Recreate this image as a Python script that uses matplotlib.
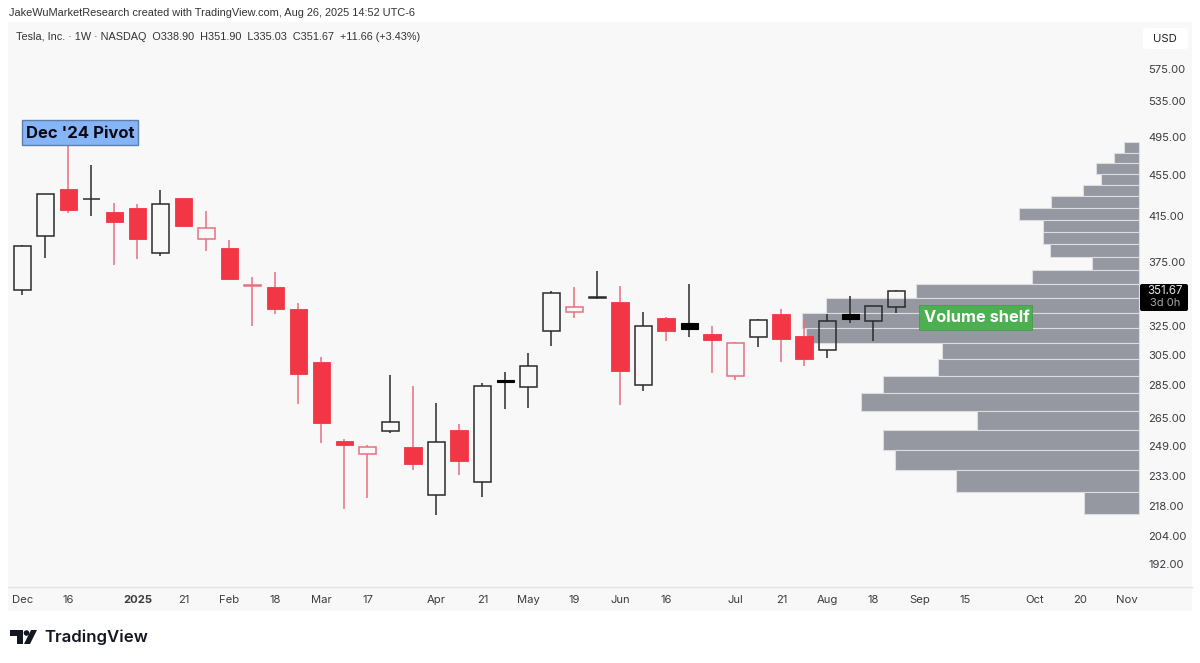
# plot.py
import matplotlib
matplotlib.use("Agg")
import matplotlib.pyplot as plt
from matplotlib.patches import Rectangle, Circle, Polygon, FancyBboxPatch
from matplotlib.ticker import NullLocator

plt.rcParams["font.family"] = ["Inter", "DejaVu Sans"]

# weekly candles
opens = [352.1, 397.3, 440.4, 431.0, 418.8, 422.8, 382.6, 432.0, 403.9, 386.4, 356.0, 354.7, 337.8,
         300.1, 252.2, 248.4, 257.7, 248.9, 223.4, 258.4, 229.9, 287.0, 283.9, 321.7, 339.0, 346.4,
         342.8, 285.4, 330.7, 323.1, 319.7, 313.0, 317.2, 334.1, 318.0, 308.6, 330.0, 329.0, 338.9]
highs = [389.1, 436.0, 488.5, 464.8, 427.5, 426.2, 439.5, 432.2, 420.0, 393.5, 362.4, 366.9, 342.1,
         303.4, 253.2, 249.5, 291.6, 284.7, 274.4, 261.6, 286.3, 293.9, 306.6, 351.5, 354.5, 367.3,
         355.0, 335.3, 331.8, 357.0, 325.0, 313.7, 330.3, 337.7, 329.5, 334.1, 347.5, 340.0, 351.9]
lows = [348.4, 377.9, 417.9, 415.4, 372.6, 377.0, 379.8, 406.0, 384.3, 360.2, 325.1, 334.0, 273.6,
        250.6, 216.7, 221.9, 256.4, 236.1, 214.0, 233.7, 222.6, 270.7, 271.0, 311.4, 331.0, 345.1,
        272.9, 281.5, 314.4, 317.2, 293.3, 288.8, 310.3, 300.5, 297.7, 302.7, 327.1, 314.4, 335.03]
closes = [388.6, 435.6, 420.7, 431.4, 409.9, 394.2, 426.0, 406.0, 394.2, 361.3, 355.7, 337.6, 292.6,
          262.1, 249.7, 244.8, 263.0, 239.4, 251.7, 241.1, 284.4, 288.3, 297.6, 349.7, 335.6, 346.7,
          294.6, 325.1, 321.6, 327.3, 315.2, 291.2, 329.3, 315.8, 302.0, 329.0, 334.1, 339.6, 351.67]
# w = hollow black, k = solid black, r = solid red, h = hollow red
kinds = list("wwrwrrwrhrhrrrrhwrwrwkwwhwrwrkrhwrrwkww")

# volume profile rows, top to bottom (relative volume)
vp_edges = [488.5, 477.6, 466.6, 455.6, 444.6, 433.7, 422.7, 411.7, 400.7, 389.8, 378.8, 367.8, 356.9,
            345.9, 334.9, 323.9, 313.0, 302.0, 291.0, 280.0, 269.1, 258.1, 247.1, 236.1, 225.2, 214.2]
vp_volume = [15, 25, 43, 38, 56, 88, 120, 96, 96, 89, 47, 107, 223,
             313, 337, 333, 197, 201, 256, 278, 162, 256, 244, 183, 55]

price_ticks = [575, 535, 495, 455, 415, 375, 325, 305, 285, 265, 249, 233, 218, 204, 192]
date_pos = [0, 2, 5, 7, 9, 11, 13, 15, 18, 20, 22, 24, 26, 28, 31, 33, 35, 37, 39, 41, 44, 46, 48]
date_labels = ["Dec", "16", "2025", "21", "Feb", "18", "Mar", "17", "Apr", "21", "May", "19", "Jun",
               "16", "Jul", "21", "Aug", "18", "Sep", "15", "Oct", "20", "Nov"]

RED = "#f23645"
RED_LINE = "#e8707f"
BLACK = "#2b2b2b"
VP = "#9598a1"
PANEL = "#f8f8f8"
TXT = "#3c3c40"

W, H = 1200, 663
fig = plt.figure(figsize=(12, 6.63), dpi=100, facecolor="white")


def px_rect(x0, y0, x1, y1):
    return [x0 / W, 1 - y1 / H, (x1 - x0) / W, (y1 - y0) / H]


# background and page furniture in pixel coordinates
bg = fig.add_axes([0, 0, 1, 1], zorder=0)
bg.set_xlim(0, W)
bg.set_ylim(H, 0)
bg.axis("off")
bg.add_patch(Rectangle((8, 22), 1184, 589, fc=PANEL, ec="none"))
bg.plot([8, 1192], [587, 587], color="#e2e3e6", lw=1)
bg.text(9, 13.5, "JakeWuMarketResearch created with TradingView.com, Aug 26, 2025 14:52 UTC-6",
        fontsize=7.9, color="#333333", va="center", family="Liberation Sans")

# volume profile sits behind the candles
ax_vp = fig.add_axes(px_rect(8, 22, 1140, 587), zorder=1)
ax_vp.patch.set_visible(False)
ax_vp.set_yscale("log")
ax_vp.set_ylim(182.3, 638.1)
ax_vp.set_xlim(1131, -1)
ax_vp.barh(vp_edges[1:], vp_volume, height=[a - b for a, b in zip(vp_edges[:-1], vp_edges[1:])],
           align="edge", color=VP, edgecolor="#dcdde1", linewidth=0.8)
ax_vp.yaxis.set_minor_locator(NullLocator())
ax_vp.axis("off")

# candles
ax = fig.add_axes(px_rect(8, 22, 1140, 587), zorder=2)
ax.patch.set_visible(False)
ax.set_yscale("log")
ax.set_ylim(182.3, 638.1)
ax.set_xlim(-0.63, 48.59)

for i, kind in enumerate(kinds):
    top = max(opens[i], closes[i])
    bottom = min(opens[i], closes[i])
    line = BLACK if kind in "wk" else RED_LINE
    ax.vlines(i, top, highs[i], color=line, lw=1.1, zorder=2)
    ax.vlines(i, lows[i], bottom, color=line, lw=1.1, zorder=2)
    if kind == "w":
        ax.bar(i, top - bottom, 0.76, bottom=bottom, fc="none", ec=BLACK, lw=1.1, zorder=3)
    elif kind == "k":
        ax.bar(i, top - bottom, 0.76, bottom=bottom, fc="black", ec="black", lw=0.8, zorder=3)
    elif kind == "r":
        ax.bar(i, top - bottom, 0.78, bottom=bottom, fc=RED, ec=RED, lw=0.6, zorder=3)
    else:
        ax.bar(i, top - bottom, 0.76, bottom=bottom, fc="none", ec=RED_LINE, lw=1.1, zorder=3)

ax.yaxis.tick_right()
ax.yaxis.set_minor_locator(NullLocator())
ax.set_yticks(price_ticks)
ax.set_yticklabels([f"{p:.2f}" for p in price_ticks], fontsize=8.1, color=TXT)
ax.set_xticks(date_pos)
ax.set_xticklabels(date_labels, fontsize=8.1, color=TXT)
ax.get_xticklabels()[date_labels.index("2025")].set_fontweight("bold")
ax.tick_params(axis="both", which="both", length=0)
ax.tick_params(axis="y", pad=6)
ax.tick_params(axis="x", pad=6)
for s in ax.spines.values():
    s.set_visible(False)

# labels on top, in pixel coordinates
ov = fig.add_axes([0, 0, 1, 1], zorder=3)
ov.patch.set_visible(False)
ov.set_xlim(0, W)
ov.set_ylim(H, 0)
ov.axis("off")

ov.text(16, 37, "Tesla, Inc. \u00b7 1W \u00b7 NASDAQ  O338.90  H351.90  L335.03  C351.67  +11.66 (+3.43%)",
        fontsize=7.8, color="#333333", va="center", family="Liberation Sans")

ov.add_patch(FancyBboxPatch((1145, 30), 41, 17, boxstyle="round,pad=2,rounding_size=3", fc="white", ec="none"))
ov.text(1165, 38.5, "USD", fontsize=8.1, color="#222222", ha="center", va="center")

ov.add_patch(FancyBboxPatch((1142, 286), 44, 23, boxstyle="round,pad=2,rounding_size=2", fc="black", ec="none"))
ov.text(1165, 291.5, "351.67", fontsize=8.3, color="#e8e8e8", ha="center", va="center")
ov.text(1165, 303.5, "3d 0h", fontsize=8.0, color="#a8a8a8", ha="center", va="center")

ov.add_patch(Rectangle((21.7, 120), 116, 25, fc="#85b5f7", ec="#5f7fa8", lw=1))
ov.text(80, 133, "Dec '24 Pivot", fontsize=12, fontweight="bold", color="#0a0a14", ha="center", va="center")

ov.add_patch(Rectangle((919.3, 305.3), 113, 24.7, fc="#4caf50", ec="#4a9a50", lw=0.6))
ov.text(976.5, 318, "Volume shelf", fontsize=11.8, fontweight="bold", color="white", ha="center", va="center")

# TradingView logo
ov.add_patch(Polygon([(10, 630), (23, 630), (23, 644), (17, 644), (17, 636), (10, 636)], fc="#131722", ec="none"))
ov.add_patch(Circle((26.5, 633), 2.8, fc="#131722", ec="none"))
ov.add_patch(Polygon([(31, 630), (37, 630), (30, 644), (24, 644)], fc="#131722", ec="none"))
ov.text(44, 637, "TradingView", fontsize=12.1, fontweight="semibold", color="#131722", va="center")

fig.savefig("out.png", dpi=100)
